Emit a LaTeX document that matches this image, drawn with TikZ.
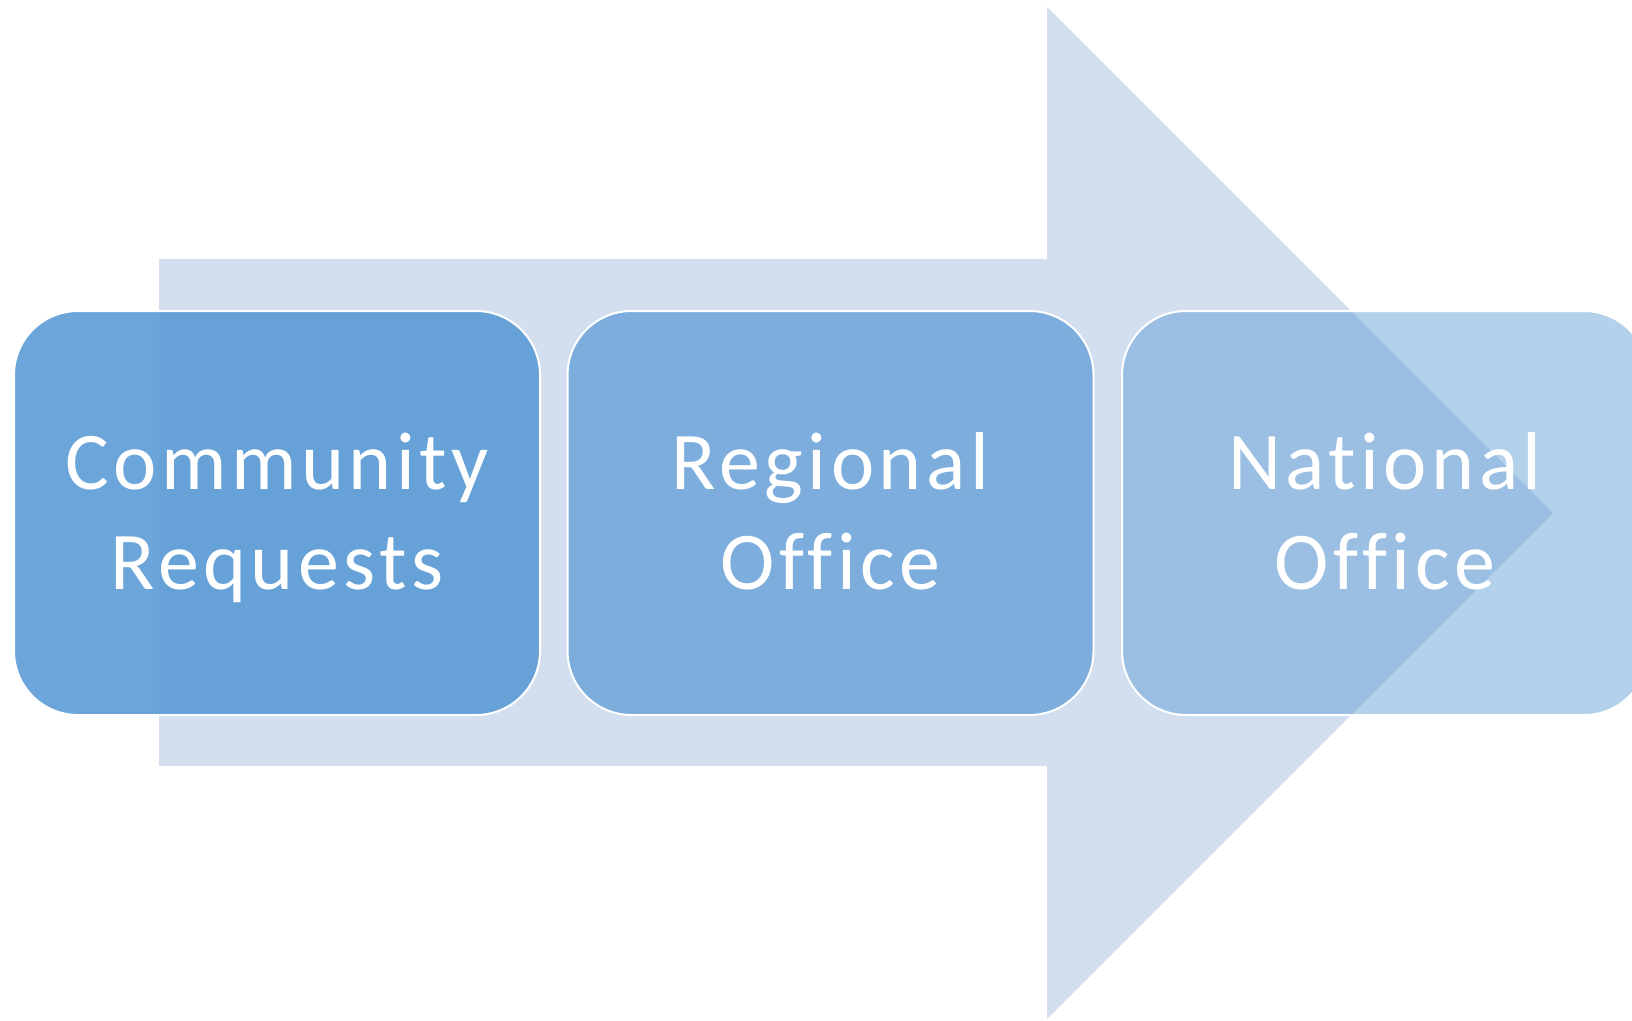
\documentclass[tikz,border=0pt]{standalone}
\usepackage{fontspec}
\setmainfont{Carlito}[Ligatures=CommonOff, LetterSpace=5.5]
\definecolor{arrowfill}{HTML}{D3DEEF}
\definecolor{stepfill}{HTML}{5B9BD5}
\begin{document}
\begin{tikzpicture}[x=1pt,y=-1pt,
  stepbox/.style={draw=white, line width=2pt, fill=stepfill,
    rounded corners=64pt, minimum width=526pt, minimum height=404pt,
    inner sep=0pt, anchor=center},
  steptext/.style={text=white, anchor=base, inner sep=0pt,
    font=\fontsize{82}{100}\selectfont}]
  \useasboundingbox (0,0) rectangle (1632,1020);
  \clip (0,0) rectangle (1632,1020);
  % background block arrow
  \fill[arrowfill] (159,259) -- (1047,259) -- (1047,7) -- (1553,513)
    -- (1047,1019) -- (1047,766) -- (159,766) -- cycle;
  % process steps
  \node[stepbox, fill opacity=0.9] (b1) at (277,513) {};
  \node[stepbox, fill opacity=0.72] (b2) at (830.5,513) {};
  \node[stepbox, fill opacity=0.46] (b3) at (1385,513) {};
  % labels
  \node[steptext] (b1a) at ([yshift=24pt]b1.center) {Community};
  \node[steptext] (b1b) at ([yshift=-76pt]b1.center) {Requests};
  \node[steptext] (b2a) at ([yshift=24pt]b2.center) {Regional};
  \node[steptext] (b2b) at ([yshift=-76pt]b2.center) {Office};
  \node[steptext] (b3a) at ([yshift=24pt]b3.center) {National};
  \node[steptext] (b3b) at ([yshift=-76pt]b3.center) {Office};
\end{tikzpicture}
\end{document}
